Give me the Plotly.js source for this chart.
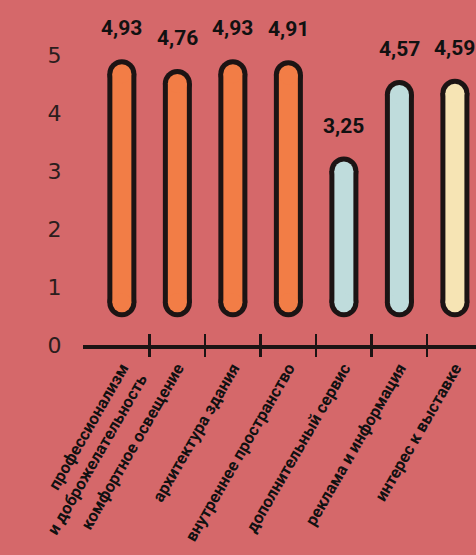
<!DOCTYPE html>
<html>
<head>
<meta charset="utf-8">
<script src="https://cdn.plot.ly/plotly-3.0.1.min.js"></script>
<style>
  html, body { margin: 0; padding: 0; background: #d5686a; }
  #chart { width: 476px; height: 555px; }
</style>
</head>
<body>
<div id="chart"></div>
<script>
// ---- data ----
const categories = [
  'профессионализм<br>и доброжелательность',
  'комфортное освещение',
  'архитектура здания',
  'внутреннее пространство',
  'дополнительный сервис',
  'реклама и информация',
  'интерес к выставке'
];
const values = [4.93, 4.76, 4.93, 4.91, 3.25, 4.57, 4.59];
const barColors = ['#f27d46', '#f27d46', '#f27d46', '#f27d46', '#bfdcdc', '#bfdcdc', '#f6e4b4'];
const yTickValues = [0, 1, 2, 3, 4, 5];

// ---- style constants ----
const BG = '#d5686a';
const INK = '#1c1414';
const PLOT_H = 345;          // plot area height in px
const Y_MAX = 5.95;
const PX_PER_UNIT = PLOT_H / Y_MAX;
const BAR_BASE = 0.48;       // bars start slightly above the axis line
const OUTER_W = 29;          // outline thickness (px)
const INNER_W = 19;          // coloured fill (px)
const CAP = (OUTER_W / 2) / PX_PER_UNIT;

const traces = [];
categories.forEach((cat, i) => {
  const ys = [BAR_BASE + CAP, values[i] - CAP];
  traces.push({
    type: 'scatter', mode: 'lines+markers',
    x: [cat, cat], y: ys,
    line: { color: INK, width: OUTER_W },
    marker: { color: INK, size: OUTER_W },
    hoverinfo: 'skip', showlegend: false
  });
  traces.push({
    type: 'scatter', mode: 'lines+markers',
    x: [cat, cat], y: ys,
    line: { color: barColors[i], width: INNER_W },
    marker: { color: barColors[i], size: INNER_W },
    hoverinfo: 'skip', showlegend: false
  });
});
// carriers for the tick-mark axes
traces.push({ type: 'scatter', mode: 'markers', x: [0], y: [0], xaxis: 'x2', yaxis: 'y',
  marker: { opacity: 0 }, hoverinfo: 'skip', showlegend: false });
traces.push({ type: 'scatter', mode: 'markers', x: [0], y: [0], xaxis: 'x3', yaxis: 'y',
  marker: { opacity: 0 }, hoverinfo: 'skip', showlegend: false });

const annotations = categories.map((cat, i) => ({
  x: cat, y: values[i], xref: 'x', yref: 'y',
  text: values[i].toFixed(2).replace('.', ','),
  showarrow: false, yanchor: 'bottom', yshift: 17,
  font: { family: 'Roboto, sans-serif', size: 21, color: '#111', weight: 700 }
}));

const X_RANGE = [-0.70, 6.38];
const boundaries = categories.slice(1).map((_, i) => i + 0.5);

const tickAxis = (dir) => ({
  overlaying: 'x', anchor: 'y', type: 'linear', range: X_RANGE,
  tickmode: 'array', tickvals: boundaries, ticks: dir, ticklen: 11,
  tickwidth: 2.5, tickcolor: INK, showticklabels: false,
  showgrid: false, zeroline: false, showline: false, fixedrange: true
});

const layout = {
  width: 476, height: 555,
  margin: { l: 83, r: 0, t: 0, b: 555 - PLOT_H },
  paper_bgcolor: BG, plot_bgcolor: BG,
  showlegend: false,
  xaxis: {
    type: 'category', categoryorder: 'array', categoryarray: categories,
    range: X_RANGE, tickangle: -60, ticks: '', ticklabelstandoff: 3,
    showline: true, linecolor: INK, linewidth: 4,
    showgrid: false, zeroline: false, automargin: false,
    tickfont: { family: 'Roboto, sans-serif', size: 16.5, color: '#111', weight: 700 }
  },
  xaxis2: tickAxis('outside'),
  xaxis3: tickAxis('inside'),
  yaxis: {
    range: [0, Y_MAX], tickmode: 'array', tickvals: yTickValues,
    ticks: 'outside', ticklen: 16, tickcolor: 'rgba(0,0,0,0)',
    showgrid: false, zeroline: false, showline: false, automargin: false,
    tickfont: { family: 'DejaVu Sans, sans-serif', size: 22, color: '#2b1d1d' }
  },
  annotations: annotations
};

Plotly.newPlot('chart', traces, layout, { staticPlot: true, displayModeBar: false });
</script>
</body>
</html>
